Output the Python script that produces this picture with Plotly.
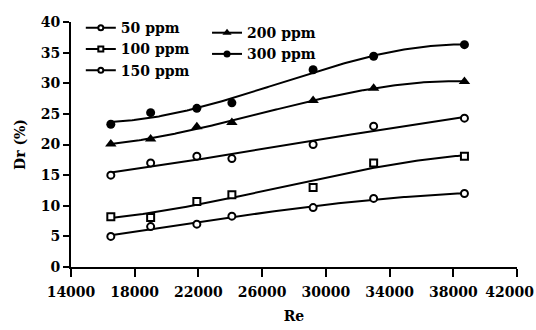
import numpy as np
import plotly.graph_objects as go

re_vals = [16500, 19000, 21900, 24100, 29200, 33000, 38700]
dr_50 = [5.0, 6.6, 7.0, 8.3, 9.7, 11.2, 12.0]
dr_100 = [8.2, 8.1, 10.7, 11.8, 13.0, 17.0, 18.1]
dr_150 = [15.0, 17.0, 18.1, 17.7, 20.0, 23.0, 24.3]
dr_200 = [20.1, 20.9, 22.9, 23.6, 27.2, 29.2, 30.3]
dr_300 = [23.3, 25.2, 25.9, 26.8, 32.2, 34.4, 36.3]
x_ticks = [14000, 18000, 22000, 26000, 30000, 34000, 38000, 42000]
y_ticks = [0, 5, 10, 15, 20, 25, 30, 35, 40]

def mk_open(sym, size):
    return dict(symbol=sym, size=size, color="white", line=dict(color="black", width=2))

def mk_fill(sym, size):
    return dict(symbol=sym, size=size, color="black", line=dict(color="black", width=0))

series = [
    ("50 ppm", dr_50, mk_open("circle", 7), mk_open("circle", 5), "legend"),
    ("100 ppm", dr_100, mk_open("square", 7), mk_open("square", 5), "legend"),
    ("150 ppm", dr_150, mk_open("circle", 7), mk_open("circle", 5), "legend"),
    ("200 ppm", dr_200, mk_fill("triangle-up", 10), mk_fill("triangle-up", 8), "legend2"),
    ("300 ppm", dr_300, mk_fill("circle", 9), mk_fill("circle", 7), "legend2"),
]

FONT = dict(family="DejaVu Serif", size=14, color="black", weight="bold")
fig = go.Figure()
xs = np.array(re_vals, dtype=float)
xf = np.linspace(xs.min(), xs.max(), 200)
for name, ys, mk, mkl, lg in series:
    coef = np.polyfit(xs, np.array(ys), 3)
    fig.add_trace(go.Scatter(x=xf, y=np.polyval(coef, xf), mode="lines",
                             line=dict(color="black", width=2), showlegend=False, hoverinfo="skip"))
    fig.add_trace(go.Scatter(x=re_vals, y=ys, mode="markers", marker=mk, showlegend=False))
    fig.add_trace(go.Scatter(x=[None], y=[None], mode="lines+markers", name=name, marker=mkl,
                             line=dict(color="black", width=2), legend=lg))

tick_text = [str(v) for v in x_ticks]
tick_text[-1] = tick_text[-1] + "\u00a0\u00a0\u00a0"

fig.update_layout(
    width=536, height=330,
    margin=dict(l=71, r=19, t=14, b=63),
    paper_bgcolor="white", plot_bgcolor="white",
    font=FONT,
    legend=dict(x=0.022, y=1.04, xanchor="left", yanchor="top", bgcolor="rgba(0,0,0,0)",
                font=FONT, tracegroupgap=0, itemwidth=30),
    legend2=dict(x=0.305, y=1.02, xanchor="left", yanchor="top", bgcolor="rgba(0,0,0,0)",
                 font=FONT, tracegroupgap=0, itemwidth=30),
    xaxis=dict(range=[14000, 42000], tickvals=x_ticks, ticktext=tick_text,
               showgrid=False, zeroline=False, showline=True, linecolor="black", linewidth=2,
               ticks="outside", ticklen=8, tickwidth=2, tickcolor="black",
               ticklabeloverflow="allow", ticklabelstandoff=3, automargin=False,
               title=dict(text="Re", font=FONT, standoff=12), tickfont=FONT),
    yaxis=dict(range=[0, 40], tickvals=y_ticks, showgrid=False, zeroline=False, showline=True,
               linecolor="black", linewidth=2, ticks="outside", ticklen=6, tickwidth=2,
               tickcolor="black", automargin=False,
               title=dict(text="Dr (%)", font=FONT, standoff=12), tickfont=FONT),
)
fig.write_html("out.html")
